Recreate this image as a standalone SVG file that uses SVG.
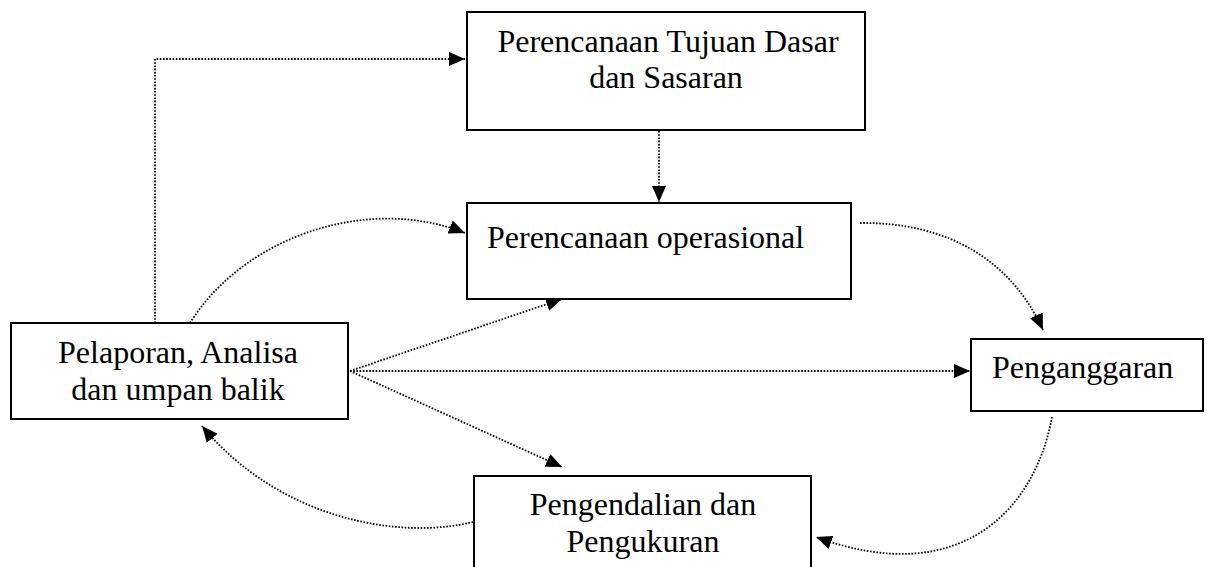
<svg xmlns="http://www.w3.org/2000/svg" width="1207" height="567" viewBox="0 0 1207 567">
<style>
.box{fill:#fff;stroke:#000;stroke-width:2}
.t{font-family:"Liberation Serif","Times New Roman",serif;font-size:32px;fill:#000}
.c{fill:none;stroke:#000;stroke-width:1.8;stroke-dasharray:1.6 1.6}
</style>
<defs>
<marker id="ah" markerUnits="userSpaceOnUse" markerWidth="18" markerHeight="16" refX="16" refY="8" orient="auto">
<path d="M0,1 L16,8 L0,15 Z" fill="#000"/>
</marker>
</defs>
<g id="connectors">
<path class="c" d="M155,323 V59 H465" marker-end="url(#ah)"/>
<path class="c" d="M659,131 V202" marker-end="url(#ah)"/>
<path class="c" d="M190,323 C245,235 370,195 465,233" marker-end="url(#ah)"/>
<path class="c" d="M860,223 C950,222 1012,262 1043,330" marker-end="url(#ah)"/>
<path class="c" d="M350,371 L562,299" marker-end="url(#ah)"/>
<path class="c" d="M350,371 H970" marker-end="url(#ah)"/>
<path class="c" d="M350,371 L562,467" marker-end="url(#ah)"/>
<path class="c" d="M1052,417 C1035,510 960,590 816,537" marker-end="url(#ah)"/>
<path class="c" d="M473,522 C400,540 280,520 202,426" marker-end="url(#ah)"/>
</g>
<g id="node-tujuan">
<rect class="box" x="467" y="12" width="398" height="118"/>
<text class="t" x="668" y="52" text-anchor="middle">Perencanaan Tujuan Dasar</text>
<text class="t" x="666" y="88" text-anchor="middle">dan Sasaran</text>
</g>
<g id="node-operasional">
<rect class="box" x="467" y="203" width="384" height="96"/>
<text class="t" x="487" y="248">Perencanaan operasional</text>
</g>
<g id="node-pelaporan">
<rect class="box" x="11" y="323" width="337" height="96"/>
<text class="t" x="178" y="363" text-anchor="middle">Pelaporan, Analisa</text>
<text class="t" x="178" y="400" text-anchor="middle">dan umpan balik</text>
</g>
<g id="node-penganggaran">
<rect class="box" x="971" y="339" width="232" height="72"/>
<text class="t" x="992" y="378">Penganggaran</text>
</g>
<g id="node-pengendalian">
<rect class="box" x="474" y="476" width="337" height="110"/>
<text class="t" x="643" y="515" text-anchor="middle">Pengendalian dan</text>
<text class="t" x="643" y="552" text-anchor="middle">Pengukuran</text>
</g>
</svg>
